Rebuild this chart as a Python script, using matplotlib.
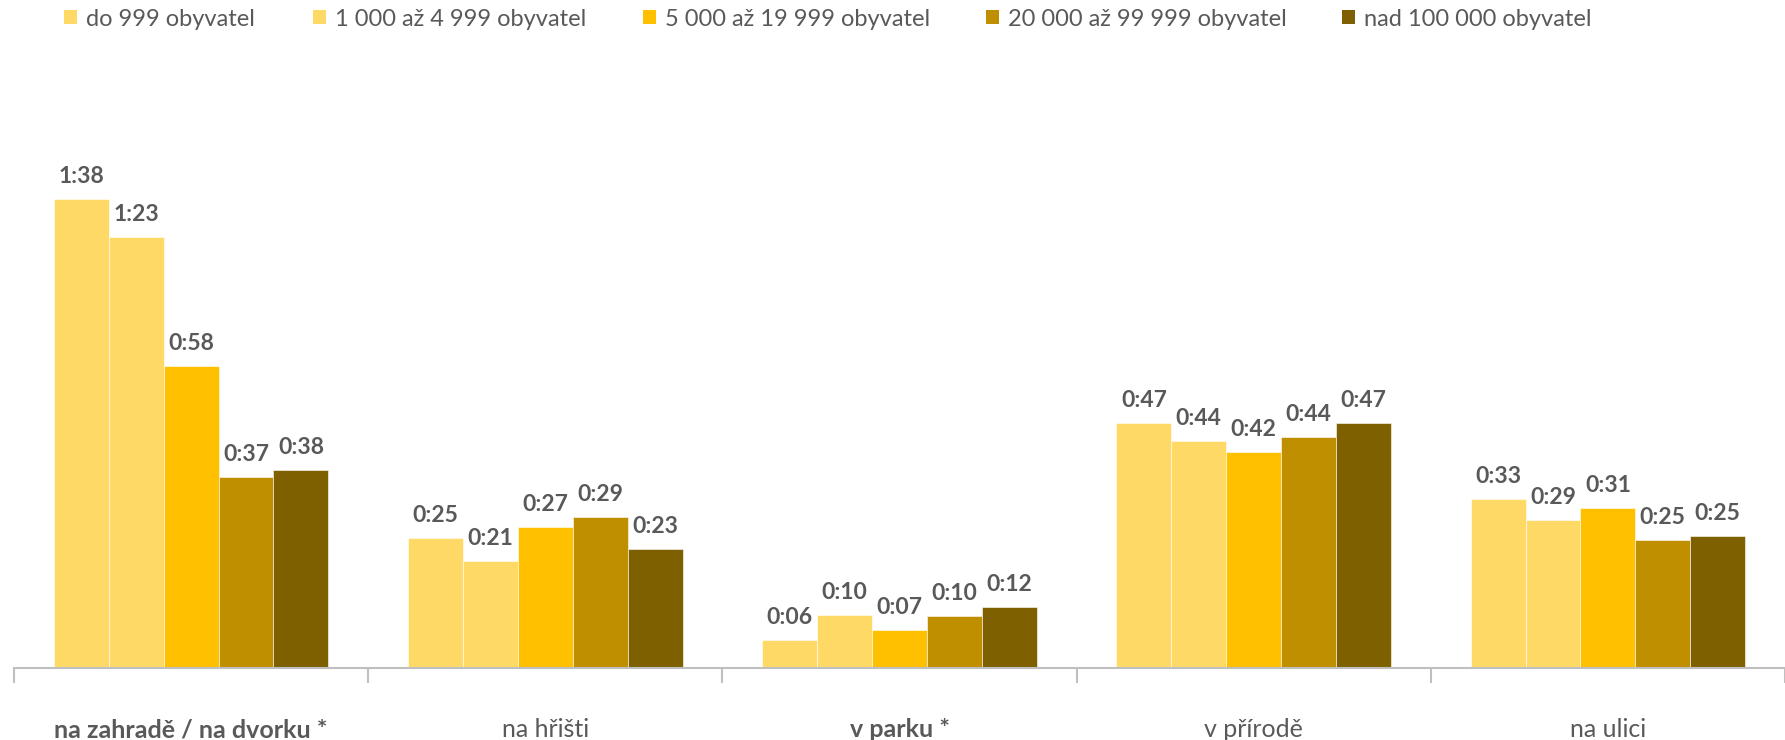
import matplotlib
matplotlib.use("Agg")
import matplotlib.pyplot as plt
from matplotlib.patches import Patch
import numpy as np

categories = ["na zahradě / na dvorku *", "na hřišti", "v parku *", "v přírodě", "na ulici"]
bold_categories = [True, False, True, False, False]
series_names = ["do 999 obyvatel", "1 000 až 4 999 obyvatel", "5 000 až 19 999 obyvatel",
                "20 000 až 99 999 obyvatel", "nad 100 000 obyvatel"]
# bar heights in minutes (as drawn)
values = [
    [90.2, 25.0, 5.4, 47.1, 32.5],
    [82.9, 20.6, 10.2, 43.7, 28.5],
    [58.1, 27.1, 7.3, 41.5, 30.8],
    [36.7, 29.0, 10.0, 44.4, 24.6],
    [38.1, 22.9, 11.7, 47.1, 25.4],
]
# data labels as printed
labels = [
    ["1:38", "0:25", "0:06", "0:47", "0:33"],
    ["1:23", "0:21", "0:10", "0:44", "0:29"],
    ["0:58", "0:27", "0:07", "0:42", "0:31"],
    ["0:37", "0:29", "0:10", "0:44", "0:25"],
    ["0:38", "0:23", "0:12", "0:47", "0:25"],
]
colors = ["#FFD966", "#FFD966", "#FFC000", "#BF8F00", "#7F6000"]

plt.rcParams['font.family'] = ['Lato', 'DejaVu Sans']
txt = "#595959"
W, H = 1785, 740

fig = plt.figure(figsize=(W/100, H/100), dpi=100)
ax_bottom_px, ax_h_px = 668, 560
ax = fig.add_axes([14/W, 1-ax_bottom_px/H, 1-14/W, ax_h_px/H])

n = len(series_names)
x = np.arange(len(categories))
bw = 0.155
for i, (name, vals) in enumerate(zip(series_names, values)):
    pos = x + (i - (n-1)/2) * bw
    bars = ax.bar(pos, vals, width=bw, color=colors[i], edgecolor="white", linewidth=0.4, label=name)
    for b, v, lab in zip(bars, vals, labels[i]):
        ax.annotate(lab, (b.get_x()+b.get_width()/2, v), xytext=(0, 11.5),
                    textcoords="offset points", ha="center", va="baseline",
                    fontsize=16.5, fontweight="bold", color=txt)

ax.set_xlim(-0.5, len(categories)-0.5)
ax.set_ylim(0, ax_h_px/5.2)
for s in ["top", "right", "left"]:
    ax.spines[s].set_visible(False)
ax.spines["bottom"].set_color("#BFBFBF")
ax.spines["bottom"].set_linewidth(1.5)
ax.set_yticks([])
ax.set_xticks(np.arange(len(categories)+1) - 0.5)
ax.set_xticklabels([])
ax.tick_params(axis="x", length=10.5, width=1.5, color="#BFBFBF")
ax.set_xticks(x, minor=True)
ax.set_xticklabels(categories, minor=True)
ax.tick_params(axis="x", which="minor", length=0, pad=36, labelsize=18, labelcolor=txt)
for lab, bold in zip(ax.get_xticklabels(minor=True), bold_categories):
    if bold:
        lab.set_fontweight("bold")

legend_x_px = [64, 313, 643, 986, 1342]
for name, c, lx in zip(series_names, colors, legend_x_px):
    fig.legend([Patch(facecolor=c, edgecolor="none")], [name], loc="center left",
               bbox_to_anchor=(lx/W, 1-19/H), frameon=False, fontsize=17, labelcolor=txt,
               handlelength=0.55, handleheight=0.55, handletextpad=0.4,
               borderpad=0, borderaxespad=0)

fig.savefig("out.png", dpi=100)
